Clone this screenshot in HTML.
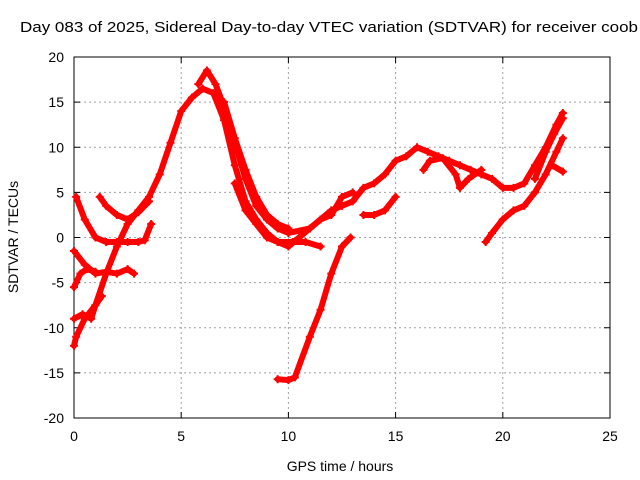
<!DOCTYPE html>
<html><head><meta charset="utf-8"><style>
body{margin:0;background:#fff;}
svg{display:block;font-family:"Liberation Sans",sans-serif;}
</style></head><body>
<svg id="chart" width="640" height="480" viewBox="0 0 640 480">
<text x="20" y="32" font-size="15" textLength="618" lengthAdjust="spacingAndGlyphs">Day 083 of 2025, Sidereal Day-to-day VTEC variation (SDTVAR) for receiver coob</text>
<g id="grid"></g>
<g id="axes"></g>
<g id="series"></g>
<text x="340" y="471" font-size="14" text-anchor="middle">GPS time / hours</text>
<text transform="translate(18,237) rotate(-90)" font-size="14" text-anchor="middle">SDTVAR / TECUs</text>
</svg>
<script>
const xTicks=[0,5,10,15,20,25];
const yTicks=[-20,-15,-10,-5,0,5,10,15,20];
const track1=[[0,-12],[0.1,-11],[0.5,-9],[1,-7.5],[1.5,-4],[2,-1],[2.5,1.5],[3,3],[3.5,4.5],[4,7],[4.5,10.5],[5,14],[5.5,15.5],[6,16.5],[6.5,16],[7,13],[7.5,8],[8,4],[8.5,2],[9,0.5],[9.5,-0.5],[10,-1],[10.5,0],[11,1],[11.5,2],[12,3],[12.5,3.5],[13,4],[13.5,5.5],[14,6],[14.5,7],[15,8.5],[15.5,9],[16,10],[16.5,9.5],[17,9],[17.5,8.5],[18,8],[18.5,7.5],[19,7],[19.5,6.5],[20,5.5],[20.5,5.5],[21,6],[21.5,8],[22,10],[22.5,12.5],[22.8,13.8]];
const track2=[[5.8,17],[6.2,18.5],[6.6,17],[7,14.5],[7.5,10.5],[8,6.5],[8.5,3.5],[9,2],[9.5,1],[10,0.5],[11,1],[11.5,2],[12,2.5],[12.5,4.5],[13,5]];
const track3=[[0.1,4.5],[0.5,2],[1,0],[1.5,-0.5],[2,-0.5],[2.5,-0.5],[3,-0.5],[3.3,-0.3],[3.6,1.5]];
const track4=[[1.2,4.5],[1.5,3.5],[2,2.5],[2.5,2],[3,2.8],[3.5,4]];
const track5=[[0,-1.5],[0.5,-3],[1,-4],[1.5,-3.8],[2,-4],[2.5,-3.5],[2.8,-4]];
const track6=[[0,-5.5],[0.3,-4],[0.6,-3.5],[1,-3.8]];
const track7=[[0,-9],[0.4,-8.5],[0.8,-9],[1,-7.5],[1.3,-6.5]];
const track8=[[9.5,-15.7],[10,-15.8],[10.3,-15.5],[11,-11],[11.5,-8],[12,-4],[12.5,-1],[12.9,0]];
const track9=[[7.5,6],[8,3],[8.5,1.5],[9,0],[9.5,-0.5],[10.2,-0.5],[10.8,-0.5],[11.5,-1]];
const track10=[[13.5,2.5],[14,2.5],[14.5,3],[15,4.5]];
const track11=[[19.2,-0.5],[19.5,0.5],[20,2],[20.5,3],[21,3.5],[21.5,5],[22,7],[22.5,9.5],[22.8,11]];
const track12=[[16.3,7.5],[16.6,8.5],[17.2,8.8],[17.8,7],[18,5.5],[18.4,6.5],[19,7.5]];
const track13=[[22.3,8],[22.8,7.3]];
const track14=[[21.5,6.5],[22,9.5],[22.4,11.5],[22.8,13.2]];
const track15=[[7,15],[7.5,11],[8,7.5],[8.5,4.5],[9,2.5],[9.5,1.5],[10,1]];
const tracks=[track1,track2,track3,track4,track5,track6,track7,track8,track9,track10,track11,track12,track13,track14,track15];

const X0=74,X1=610,Y0=418,Y1=57;
const xs=h=>X0+(h-0)/(25-0)*(X1-X0);
const ys=v=>Y0-(v+20)/40*(Y0-Y1);
const NS="http://www.w3.org/2000/svg";
function mk(tag,attrs,parent){const e=document.createElementNS(NS,tag);for(const k in attrs)e.setAttribute(k,attrs[k]);parent.appendChild(e);return e;}
const grid=document.getElementById('grid'),axes=document.getElementById('axes'),series=document.getElementById('series');
xTicks.forEach(t=>{
  if(t>0&&t<25){const l=mk('line',{x1:xs(t),x2:xs(t),y1:Y1,y2:Y0,stroke:'#a0a0a0','stroke-dasharray':'2,3'},grid);
  
  }
  const tk=mk('line',{x1:xs(t),x2:xs(t),y1:Y0,y2:Y0-6,stroke:'#000'},axes);
  
  
  const tk2=mk('line',{x1:xs(t),x2:xs(t),y1:Y1,y2:Y1+6,stroke:'#000'},axes);
  
  
  const tx=mk('text',{x:xs(t),y:Y0+23,'font-size':14,'text-anchor':'middle'},axes);tx.textContent=t;
  
  
});
yTicks.forEach(t=>{
  if(t>-20&&t<20){const l=mk('line',{x1:X0,x2:X1,y1:ys(t),y2:ys(t),stroke:'#a0a0a0','stroke-dasharray':'2,3'},grid);
  
  }
  const tk=mk('line',{x1:X0,x2:X0+6,y1:ys(t),y2:ys(t),stroke:'#000'},axes);
  
  
  const tk2=mk('line',{x1:X1,x2:X1-6,y1:ys(t),y2:ys(t),stroke:'#000'},axes);
  
  
  const tx=mk('text',{x:X0-10,y:ys(t)+5,'font-size':14,'text-anchor':'end'},axes);tx.textContent=t;
  
  
});
const frame=mk('rect',{x:X0,y:Y1,width:X1-X0,height:Y0-Y1,fill:'none',stroke:'#000'},axes);


tracks.forEach((tr,i)=>{
  const p=mk('polyline',{points:tr.map(d=>xs(d[0])+','+ys(d[1])).join(' '),fill:'none',stroke:'#ff0000','stroke-width':6,'stroke-linejoin':'round','stroke-linecap':'round'},series);
  
  
  tr.forEach(d=>{
    const m=mk('path',{d:`M${xs(d[0])-4},${ys(d[1])}h8M${xs(d[0])},${ys(d[1])-4}v8`,stroke:'#ff0000','stroke-width':2},series);
    
    
  });
});
</script>
</body></html>
